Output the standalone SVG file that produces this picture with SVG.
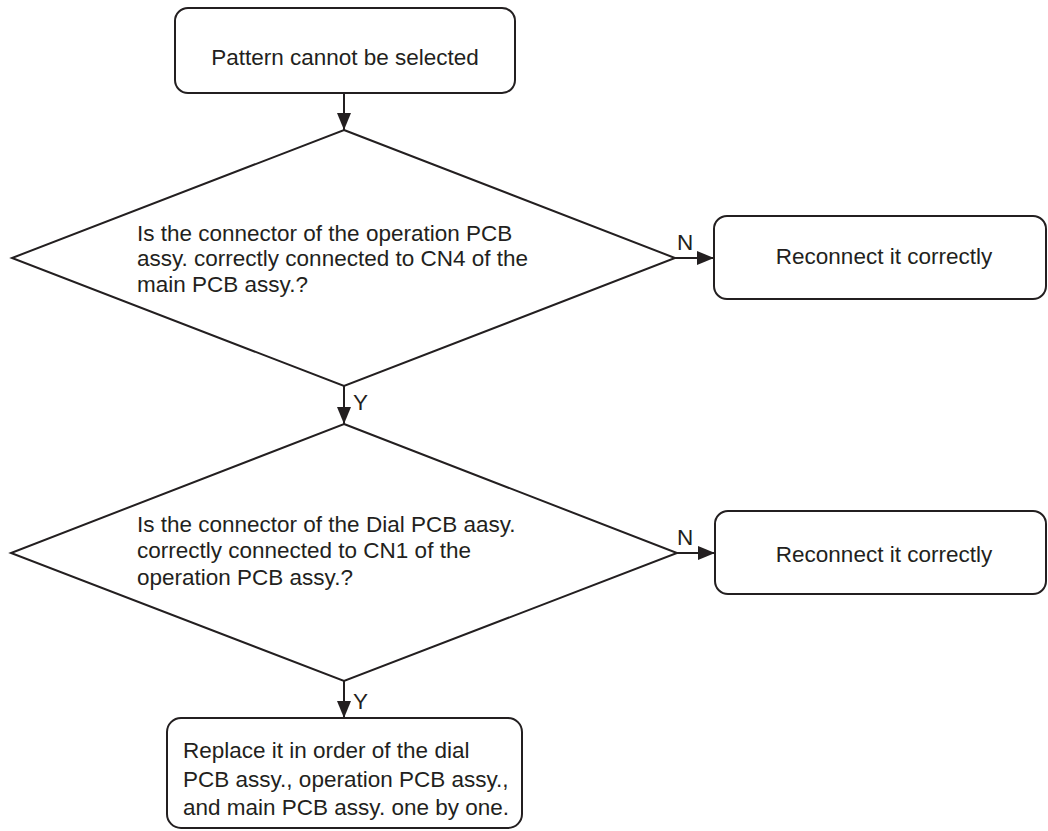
<svg xmlns="http://www.w3.org/2000/svg" width="1048" height="831" viewBox="0 0 1048 831">
<style>
.box{fill:#fff;stroke:#231f20;stroke-width:2}
.dia{fill:#fff;stroke:#231f20;stroke-width:2;stroke-linejoin:miter}
.t{font-family:"Liberation Sans",Arial,sans-serif;font-size:22.5px;fill:#231f20}
.c{text-anchor:middle}
.ln{stroke:#231f20;stroke-width:2;fill:none}
</style>
<defs>
<marker id="ah" viewBox="0 0 17 14" refX="17" refY="7" markerWidth="17" markerHeight="14" markerUnits="userSpaceOnUse" orient="auto">
<path d="M0,0 L17,7 L0,14 Z" fill="#231f20"/>
</marker>
</defs>
<g id="start">
<rect class="box" x="175" y="8" width="340" height="85" rx="13"/>
<text class="t c" x="345" y="65">Pattern cannot be selected</text>
</g>
<g id="d1">
<polygon class="dia" points="344,130 675,258 344,386 12,258"/>
<text class="t" x="137" y="241">Is the connector of the operation PCB</text>
<text class="t" x="137" y="266">assy. correctly connected to CN4 of the</text>
<text class="t" x="137" y="292">main PCB assy.?</text>
</g>
<g id="r1">
<rect class="box" x="714" y="216" width="332" height="83" rx="13"/>
<text class="t c" x="884" y="264">Reconnect it correctly</text>
</g>
<g id="d2">
<polygon class="dia" points="344,424 677,553 344,681 11,553"/>
<text class="t" x="137" y="532">Is the connector of the Dial PCB aasy.</text>
<text class="t" x="137" y="558">correctly connected to CN1 of the</text>
<text class="t" x="137" y="585">operation PCB assy.?</text>
</g>
<g id="r2">
<rect class="box" x="715" y="511" width="331" height="83" rx="13"/>
<text class="t c" x="884" y="562">Reconnect it correctly</text>
</g>
<g id="end">
<rect class="box" x="167" y="718" width="355" height="110" rx="14"/>
<text class="t" x="183" y="758">Replace it in order of the dial</text>
<text class="t" x="183" y="787">PCB assy., operation PCB assy.,</text>
<text class="t" x="183" y="815">and main PCB assy. one by one.</text>
</g>
<g id="connectors">
<line class="ln" x1="344" y1="93" x2="344" y2="130" marker-end="url(#ah)"/>
<line class="ln" x1="675" y1="258" x2="714" y2="258" marker-end="url(#ah)"/>
<text class="t" x="677" y="250">N</text>
<line class="ln" x1="344" y1="386" x2="344" y2="424" marker-end="url(#ah)"/>
<text class="t" x="353" y="410">Y</text>
<line class="ln" x1="677" y1="553" x2="715" y2="553" marker-end="url(#ah)"/>
<text class="t" x="677" y="545">N</text>
<line class="ln" x1="344" y1="681" x2="344" y2="718" marker-end="url(#ah)"/>
<text class="t" x="353" y="709">Y</text>
</g>
</svg>
